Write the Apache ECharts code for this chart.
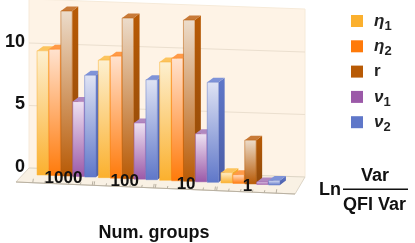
<!DOCTYPE html>
<html><head><meta charset="utf-8">
<style>html,body{margin:0;padding:0;background:#fff}#c{width:415px;height:243px}</style>
<script src="https://cdn.jsdelivr.net/npm/echarts@6/dist/echarts.min.js"></script>
</head><body><div id="c"></div>
<script>
const categories = ['1000', '100', '10', '1'];
const eta1 = [9.94, 9.4, 9.46, 0.82];
const eta2 = [10.1, 9.76, 9.8, 0.7];
const rVal = [13.2, 12.85, 12.9, 3.5];
const nu1 = [6.0, 4.5, 3.84, 0.2];
const nu2 = [8.14, 8.0, 8.0, 0.36];
const yTicks = [0, 5, 10];

const seriesList = [
  {name:'η1', values:eta1, c:'#fbb02e', top:'#fdf0d0', side:'#e0982a', cap:'#fcc45e'},
  {name:'η2', values:eta2, c:'#ff7a0a', top:'#ffe2cf', side:'#e06a10', cap:'#ff9a48'},
  {name:'r',  values:rVal, c:'#b85a05', top:'#ecdccb', side:'#8f4a0c', cap:'#c87a38'},
  {name:'ν1', values:nu1,  c:'#9b59a8', top:'#eee2f2', side:'#85509a', cap:'#b088c0'},
  {name:'ν2', values:nu2,  c:'#5f77c9', top:'#dfe3f4', side:'#4a5ca6', cap:'#7f93d8'}
];

const STEP = 11.9, W = 11.4, DX = 6, DY = -4.5;
const baseY = x => 175 + 0.043 * (x - 37);

function barItem(s) {
  return function (params, api) {
    const i = api.value(0), v = api.value(1);
    const o = api.coord([i, 0]), t = api.coord([i, v]);
    const h = o[1] - t[1];
    const x0 = o[0] + (s.idx - 2.5) * STEP + 0.3, x1 = x0 + W;
    const b = baseY(x0), y = b - h;
    const z2 = i * 10 + s.idx;
    const grad = new echarts.graphic.LinearGradient(0, 0, 0, 1, [
      {offset:0, color:s.top}, {offset:1, color:s.c}]);
    const sideGrad = new echarts.graphic.LinearGradient(0, 0, 0, 1, [
      {offset:0, color:s.c}, {offset:1, color:s.side}]);
    return {type:'group', children:[
      {type:'polygon', z2:z2, shape:{points:[[x1,y],[x1+DX,y+DY],[x1+DX,b+DY],[x1,b]]}, style:{fill:sideGrad}},
      {type:'polygon', z2:z2, shape:{points:[[x0,y],[x0+DX,y+DY],[x1+DX,y+DY],[x1,y]]}, style:{fill:s.cap}},
      {type:'polygon', z2:z2, shape:{points:[[x0,y],[x1,y],[x1,b],[x0,b]]}, style:{fill:grad, stroke:s.c, lineWidth:0.5}}
    ]};
  };
}

function wallItem(params, api) {
  const yOf = v => api.coord([0, v])[1] + 1;
  const L = 29, R = 305, drop = 9;
  const edge = x => 182 + 0.043 * (x - 16);
  const kids = [
    {type:'polygon', z2:-10, shape:{points:[[L,-1],[R,9],[R,177],[L,168]]}, style:{fill:'#fef3e6', stroke:'#f6ead9', lineWidth:1}},
    {type:'polygon', z2:-9, shape:{points:[[L,168],[R,177],[295,194],[16,182]]}, style:{fill:'#f9f1e4', stroke:'#ddd5c6', lineWidth:1}},
    {type:'line', z2:-8, shape:{x1:16, y1:182, x2:295, y2:194}, style:{stroke:'#b9b1a2', lineWidth:1}}
  ];
  yTicks.slice(1).forEach(v => {
    kids.push({type:'line', z2:-8, shape:{x1:L, y1:yOf(v), x2:R, y2:yOf(v)+drop}, style:{stroke:'#ebdfcf', lineWidth:1}});
  });
  categories.forEach((c, i) => {
    const cx = api.coord([i, 0])[0];
    for (let k = 0; k <= 5; k++) {
      const x = cx - 33.75 + k * STEP, e = edge(x), len = (k === 0 || k === 5) ? 4 : 2.5;
      kids.push({type:'line', z2:-8, shape:{x1:x, y1:e, x2:x+0.6, y2:e-len}, style:{stroke:'#b9b1a2', lineWidth:1}});
    }
  });
  return {type:'group', children:kids};
}

const chart = echarts.init(document.getElementById('c'), null, {renderer:'canvas'});
const series = [{
  type:'custom', silent:true, renderItem:wallItem, data:[[0,0]], encode:{x:0,y:1}, animation:false, legendHoverLink:false
}];
seriesList.forEach((s, idx) => {
  s.idx = idx;
  series.push({
    type:'custom', name:s.name, renderItem:barItem(s),
    data:s.values.map((v,i)=>[i,v]), encode:{x:0,y:1},
    itemStyle:{color:s.c}, animation:false
  });
});
const labelDrop = [0, 3, 6, 8];
chart.setOption({
  animation:false,
  backgroundColor:'#fff',
  textStyle:{fontFamily:'"Liberation Sans"'},
  grid:{left:35.85, width:245.2, top:0, height:167, outerBoundsMode:'none'},
  xAxis:{
    type:'category', z:10,
    data:categories.map((c,i)=>({value:c, textStyle:{padding:[labelDrop[i],6,0,0]}})),
    axisLine:{show:false}, axisTick:{show:false},
    axisLabel:{margin:3, fontSize:17, fontWeight:'bold', color:'#111', interval:0},
    name:'Num. groups', nameLocation:'middle', nameGap:57,
    nameTextStyle:{fontSize:18, fontWeight:'bold', color:'#111', padding:[0,9,0,0]}
  },
  yAxis:{
    type:'value', min:0, max:13.36, interval:5, offset:6.85,
    axisLine:{show:true, lineStyle:{color:'#d8d0c4'}},
    axisTick:{show:true, inside:true, length:4, lineStyle:{color:'#c9c0b0'}},
    minorTick:{show:true, splitNumber:5, length:2.5, lineStyle:{color:'#d5ccbc'}},
    splitLine:{show:false},
    axisLabel:{fontSize:18, fontWeight:'bold', color:'#111', margin:4, showMaxLabel:false}
  },
  legend:{
    orient:'vertical', left:351, top:9, itemWidth:12, itemHeight:12, itemGap:1.3, padding:0,
    icon:'rect', selectedMode:false, itemStyle:{borderWidth:0},
    data:seriesList.map(s=>s.name),
    formatter:n=>{
      if(n==='r') return '{b|r}{s| }';
      return '{g|'+n[0]+'}{s|'+n[1]+'}';
    },
    textStyle:{
      color:'#222',
      rich:{
        g:{fontFamily:'"Liberation Sans"', fontStyle:'italic', fontWeight:'bold', fontSize:17, color:'#222', lineHeight:24, padding:[0,0,0,6]},
        b:{fontFamily:'"Liberation Sans"', fontWeight:'bold', fontSize:17, color:'#222', lineHeight:24, padding:[0,0,0,6]},
        s:{fontFamily:'"Liberation Sans"', fontWeight:'bold', fontSize:13, color:'#222', lineHeight:13, verticalAlign:'bottom', padding:[11,0,0,0]}
      }
    }
  },
  graphic:[
    {type:'text', left:319, top:181, style:{text:'Ln', font:'bold 18px "Liberation Sans"', fill:'#111'}},
    {type:'text', left:361, top:167, style:{text:'Var', font:'bold 18px "Liberation Sans"', fill:'#111'}},
    {type:'text', left:343, top:196, style:{text:'QFI Var', font:'bold 18px "Liberation Sans"', fill:'#111'}},
    {type:'rect', left:343, top:188.5, shape:{width:65, height:1.5}, style:{fill:'#111'}}
  ],
  series:series
});
</script></body></html>
